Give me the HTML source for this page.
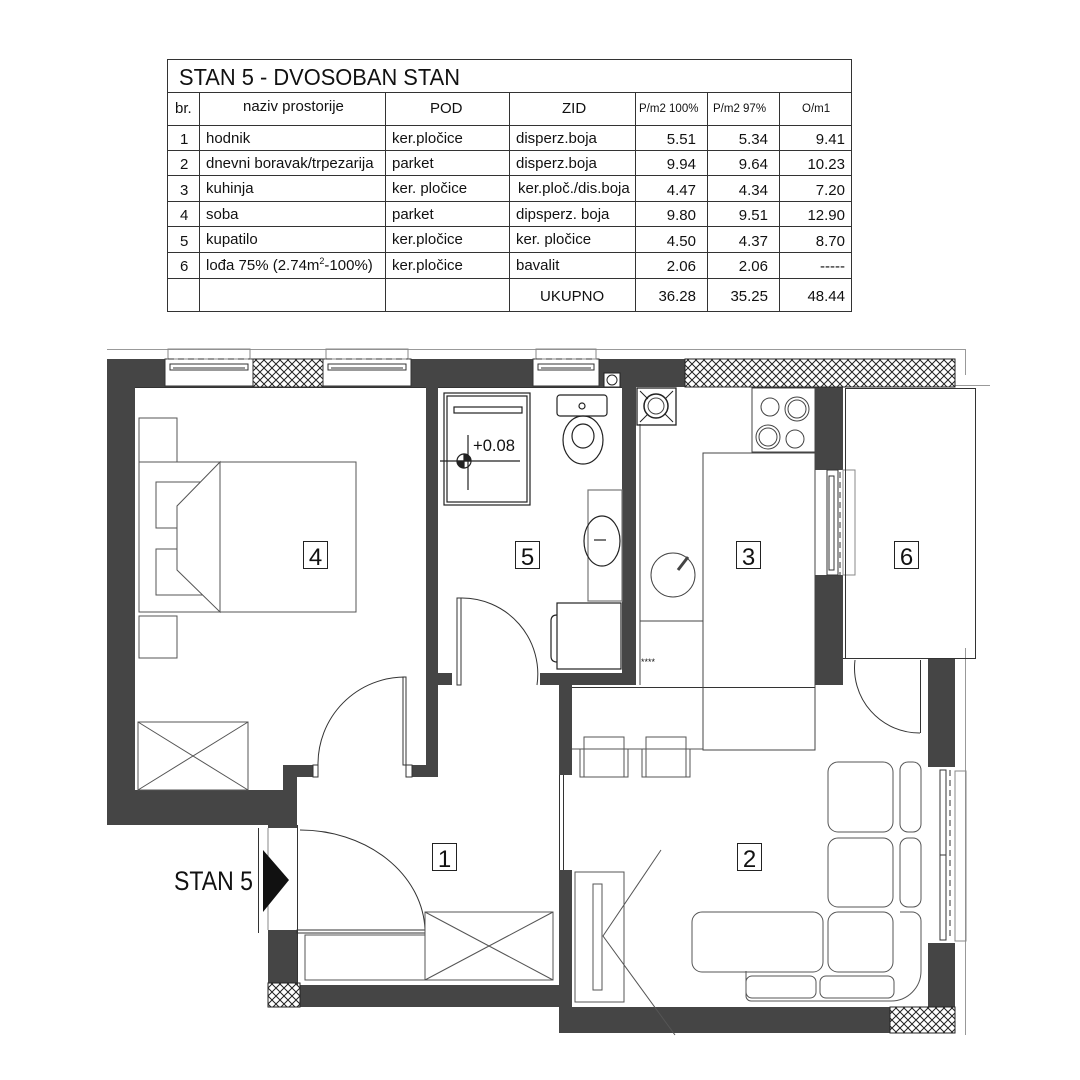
<!DOCTYPE html>
<html><head><meta charset="utf-8"><style>
html,body{margin:0;padding:0;background:#fff;width:1080px;height:1080px;overflow:hidden}
svg{display:block}
text{font-family:"Liberation Sans",sans-serif;fill:#111}
</style></head><body>
<svg width="1080" height="1080" viewBox="0 0 1080 1080" xmlns="http://www.w3.org/2000/svg">
<defs>
<pattern id="h" width="8" height="8" patternUnits="userSpaceOnUse">
<rect width="8" height="8" fill="#fff"/>
<path d="M0 0L8 8M8 0L0 8" stroke="#222" stroke-width="1"/>
</pattern>
</defs>
<!-- TABLE -->
<g stroke="#333" stroke-width="1" fill="none">
<rect x="167.5" y="59.5" width="684" height="252"/>
<line x1="167" y1="92.5" x2="851" y2="92.5"/>
<line x1="167" y1="125.5" x2="851" y2="125.5"/>
<line x1="167" y1="150.5" x2="851" y2="150.5"/>
<line x1="167" y1="175.5" x2="851" y2="175.5"/>
<line x1="167" y1="201.5" x2="851" y2="201.5"/>
<line x1="167" y1="226.5" x2="851" y2="226.5"/>
<line x1="167" y1="252.5" x2="851" y2="252.5"/>
<line x1="167" y1="278.5" x2="851" y2="278.5"/>
<line x1="199.5" y1="92" x2="199.5" y2="311"/>
<line x1="385.5" y1="92" x2="385.5" y2="311"/>
<line x1="509.5" y1="92" x2="509.5" y2="311"/>
<line x1="635.5" y1="92" x2="635.5" y2="311"/>
<line x1="707.5" y1="92" x2="707.5" y2="311"/>
<line x1="779.5" y1="92" x2="779.5" y2="311"/>
</g>
<text x="179" y="85" font-size="23" textLength="281" lengthAdjust="spacingAndGlyphs">STAN  5 - DVOSOBAN STAN</text>
<g font-size="15">
<text x="175" y="113">br.</text>
<text x="243" y="111">naziv prostorije</text>
<text x="430" y="113">POD</text>
<text x="562" y="113">ZID</text>
<text x="639" y="112" font-size="11.5">P/m2 100%</text>
<text x="713" y="112" font-size="11.5">P/m2 97%</text>
<text x="802" y="112" font-size="11.5">O/m1</text>
<g>
<text x="180" y="144">1</text><text x="206" y="143">hodnik</text><text x="392" y="143">ker.pločice</text><text x="516" y="143">disperz.boja</text>
<text x="180" y="169">2</text><text x="206" y="168">dnevni boravak/trpezarija</text><text x="392" y="168">parket</text><text x="516" y="168">disperz.boja</text>
<text x="180" y="195">3</text><text x="206" y="193">kuhinja</text><text x="392" y="193">ker. pločice</text><text x="518" y="193">ker.ploč./dis.boja</text>
<text x="180" y="220">4</text><text x="206" y="219">soba</text><text x="392" y="219">parket</text><text x="516" y="219">dipsperz. boja</text>
<text x="180" y="246">5</text><text x="206" y="244">kupatilo</text><text x="392" y="244">ker.pločice</text><text x="516" y="244">ker. pločice</text>
<text x="180" y="271">6</text><text x="206" y="270">lođa 75%  (2.74m<tspan font-size="9" dy="-6">2</tspan><tspan dy="6">-100%)</tspan></text><text x="392" y="270">ker.pločice</text><text x="516" y="270">bavalit</text>
<text x="540" y="301">UKUPNO</text>
</g>
<g text-anchor="end">
<text x="696" y="144">5.51</text><text x="768" y="144">5.34</text><text x="845" y="144">9.41</text>
<text x="696" y="169">9.94</text><text x="768" y="169">9.64</text><text x="845" y="169">10.23</text>
<text x="696" y="195">4.47</text><text x="768" y="195">4.34</text><text x="845" y="195">7.20</text>
<text x="696" y="220">9.80</text><text x="768" y="220">9.51</text><text x="845" y="220">12.90</text>
<text x="696" y="246">4.50</text><text x="768" y="246">4.37</text><text x="845" y="246">8.70</text>
<text x="696" y="271">2.06</text><text x="768" y="271">2.06</text><text x="845" y="271">-----</text>
<text x="696" y="301">36.28</text><text x="768" y="301">35.25</text><text x="845" y="301">48.44</text>
</g>
</g>

<!-- outer thin lines -->
<g stroke="#999" stroke-width="1" fill="none">
<line x1="107" y1="349.5" x2="965" y2="349.5"/>
<line x1="965.5" y1="349" x2="965.5" y2="375"/>
<line x1="955" y1="385.5" x2="990" y2="385.5"/>
<line x1="965.5" y1="648" x2="965.5" y2="1035"/>
</g>

<!-- WALLS -->
<g fill="#454545">
<rect x="107" y="359" width="578" height="28"/>
<rect x="107" y="359" width="28" height="466"/>
<rect x="107" y="790" width="190" height="35"/>
<rect x="283" y="765" width="14" height="30"/>
<rect x="283" y="765" width="30" height="12"/>
<rect x="426" y="385" width="12" height="392"/>
<rect x="412" y="765" width="26" height="12"/>
<rect x="438" y="673" width="14" height="12"/>
<rect x="540" y="673" width="96" height="12"/>
<rect x="622" y="385" width="14" height="300"/>
<rect x="559" y="685" width="13" height="90"/>
<rect x="559" y="870" width="13" height="137"/>
<rect x="815" y="385" width="28" height="85"/>
<rect x="815" y="575" width="28" height="110"/>
<rect x="928" y="658" width="27" height="109"/>
<rect x="928" y="943" width="27" height="64"/>
<rect x="268" y="930" width="29" height="55"/>
<rect x="268" y="822" width="29" height="6"/>
<rect x="297" y="985" width="262" height="22"/>
<rect x="559" y="1007" width="331" height="26"/>
</g>
<!-- hatches -->
<rect x="253" y="359" width="70" height="28" fill="url(#h)" stroke="#222"/>
<rect x="685" y="359" width="270" height="28" fill="url(#h)" stroke="#222"/>
<rect x="268" y="983" width="32" height="24" fill="url(#h)" stroke="#222"/>
<rect x="890" y="1007" width="65" height="26" fill="url(#h)" stroke="#222"/>

<!-- windows top -->
<g fill="#fff" stroke="#333" stroke-width="1">
<rect x="165" y="359" width="88" height="27"/>
<rect x="323" y="359" width="88" height="27"/>
<rect x="533" y="359" width="66" height="27"/>
</g>
<g stroke="#333" stroke-width="1" fill="none">
<rect x="168" y="349" width="82" height="10" stroke="#888"/>
<rect x="326" y="349" width="82" height="10" stroke="#888"/>
<rect x="536" y="349" width="60" height="10" stroke="#888"/>
<line x1="168" y1="359" x2="250" y2="359" stroke-dasharray="6,4"/>
<line x1="326" y1="359" x2="408" y2="359" stroke-dasharray="6,4"/>
<line x1="536" y1="359" x2="596" y2="359" stroke-dasharray="6,4"/>
<rect x="170" y="364" width="78" height="6"/><line x1="173" y1="368" x2="245" y2="368"/>
<rect x="328" y="364" width="78" height="6"/><line x1="331" y1="368" x2="403" y2="368"/>
<rect x="538" y="364" width="56" height="6"/><line x1="541" y1="368" x2="591" y2="368"/>
<rect x="827" y="470" width="11" height="105" fill="#fff"/>
<rect x="829" y="476" width="5" height="94"/>
<line x1="840" y1="472" x2="840" y2="575" stroke-dasharray="6,4"/>
<rect x="843" y="470" width="12" height="105" stroke="#888"/>
<rect x="940" y="770" width="6" height="170"/>
<line x1="950" y1="770" x2="950" y2="940" stroke-dasharray="6,4"/>
<rect x="955" y="771" width="11" height="170" stroke="#888"/>
<line x1="940" y1="855" x2="946" y2="855"/>
</g>
<rect x="604" y="373" width="16" height="14" fill="#fff" stroke="#222"/>
<circle cx="612" cy="380" r="5" fill="none" stroke="#222"/>

<!-- thin interior outlines -->
<g stroke="#333" stroke-width="1" fill="none">
<line x1="135" y1="387.5" x2="426" y2="387.5"/>
<line x1="438" y1="387.5" x2="622" y2="387.5"/>
<line x1="559.5" y1="775" x2="559.5" y2="870"/>
<line x1="563.5" y1="775" x2="563.5" y2="870"/>
<line x1="572" y1="687.5" x2="815" y2="687.5"/>
<line x1="297.5" y1="825" x2="297.5" y2="985"/>
<line x1="268" y1="828" x2="268" y2="930" stroke="#888"/>
<line x1="258.5" y1="828" x2="258.5" y2="933"/>
<rect x="845.5" y="388.5" width="130" height="270"/>
<line x1="843" y1="658.5" x2="928" y2="658.5"/>
<line x1="920.5" y1="660" x2="920.5" y2="733"/>
<path d="M855 660 A65 65 0 0 0 920 733"/>
<rect x="403" y="677" width="3" height="88"/>
<path d="M405 677 A87 87 0 0 0 318 765"/>
<rect x="313" y="765" width="5" height="12"/>
<rect x="406" y="765" width="6" height="12"/>
<rect x="457" y="598" width="4" height="87"/>
<path d="M461 598 A76 76 0 0 1 537 685"/>
<rect x="297" y="930" width="128" height="3"/>
<path d="M300 830 A125 103 0 0 1 425 930"/>
</g>

<!-- ROOM 4 furniture -->
<g stroke="#555" stroke-width="1" fill="none">
<rect x="139" y="418" width="38" height="44"/>
<rect x="139" y="616" width="38" height="42"/>
<rect x="139" y="462" width="217" height="150"/>
<rect x="156" y="482" width="64" height="46"/>
<rect x="156" y="549" width="64" height="46"/>
<path d="M220 462 L220 612 L177 570 L177 506 Z" fill="#fff"/>
<rect x="138" y="722" width="110" height="68"/>
<path d="M138 722L248 790M248 722L138 790"/>
</g>

<!-- BATH -->
<g stroke="#222" stroke-width="1.2" fill="none">
<rect x="444" y="393" width="86" height="112"/>
<rect x="447" y="396" width="80" height="106"/>
<rect x="454" y="407" width="68" height="6"/>
<line x1="468" y1="435" x2="468" y2="490"/>
<line x1="440" y1="461" x2="520" y2="461"/>
<circle cx="464" cy="461" r="7"/>
<path d="M464 461 L464 454 A7 7 0 0 1 471 461Z M464 461 L457 461 A7 7 0 0 0 464 468Z" fill="#222"/>
<rect x="557" y="395" width="50" height="21" rx="3"/>
<circle cx="582" cy="406" r="3"/>
<ellipse cx="583" cy="440" rx="20" ry="24"/>
<ellipse cx="583" cy="436" rx="11" ry="12"/>
<rect x="588" y="490" width="34" height="111" stroke="#777"/>
<ellipse cx="602" cy="541" rx="18" ry="25"/>
<path d="M594 540h12"/>
<rect x="557" y="603" width="64" height="66"/>
<path d="M557 615 q-6 0 -6 6 v35 q0 6 6 6"/>
</g>
<text x="473" y="451" font-size="17" fill="#111" textLength="42" lengthAdjust="spacingAndGlyphs">+0.08</text>

<!-- KITCHEN -->
<g stroke="#444" stroke-width="1" fill="none">
<line x1="640" y1="424" x2="640" y2="685"/>
<rect x="637" y="388" width="39" height="37" stroke="#222" stroke-width="1.3"/>
<circle cx="656" cy="406" r="12" stroke="#222" stroke-width="1.5"/>
<circle cx="656" cy="406" r="8"/>
<path d="M640 391l8 8M673 391l-8 8M640 422l8-8M673 422l-8-8" stroke="#222"/>
<rect x="752" y="388" width="63" height="64"/>
<circle cx="770" cy="407" r="9"/>
<circle cx="797" cy="409" r="12"/><circle cx="797" cy="409" r="9"/>
<circle cx="768" cy="437" r="12"/><circle cx="768" cy="437" r="9"/>
<circle cx="795" cy="439" r="9"/>
<rect x="703" y="453" width="112" height="297"/>
<line x1="640" y1="621" x2="703" y2="621"/>
<circle cx="673" cy="575" r="22"/>
<line x1="678" y1="570" x2="688" y2="557" stroke-width="3"/>
</g>
<text x="641" y="665" font-size="9" fill="#222">****</text>

<!-- LIVING -->
<g stroke="#555" stroke-width="1" fill="none">
<line x1="572" y1="749" x2="703" y2="749"/>
<rect x="584" y="737" width="40" height="40"/><rect x="580" y="749" width="48" height="28"/>
<rect x="646" y="737" width="40" height="40"/><rect x="642" y="749" width="48" height="28"/>
<rect x="828" y="762" width="65" height="70" rx="10"/>
<rect x="900" y="762" width="21" height="70" rx="8"/>
<rect x="828" y="838" width="65" height="69" rx="10"/>
<rect x="900" y="838" width="21" height="69" rx="8"/>
<rect x="692" y="912" width="131" height="60" rx="10"/>
<rect x="828" y="912" width="65" height="60" rx="10"/>
<path d="M900 912 h12 a9 9 0 0 1 9 9 v50 a30 30 0 0 1 -30 30 h-140 a5 5 0 0 1 -5 -5 v-25"/>
<rect x="746" y="976" width="70" height="22" rx="6"/>
<rect x="820" y="976" width="74" height="22" rx="6"/>
<rect x="575" y="872" width="49" height="130"/>
<rect x="593" y="884" width="9" height="106"/>
<path d="M661 850 L603 936 L675 1035"/>
<rect x="305" y="935" width="120" height="45"/>
<rect x="425" y="912" width="128" height="68"/>
<path d="M425 912L553 980M553 912L425 980"/>
</g>

<!-- Room labels -->
<g font-size="24" text-anchor="middle">
<rect x="303.5" y="541.5" width="24" height="27" fill="none" stroke="#222"/><text x="315.5" y="565">4</text>
<rect x="515.5" y="541.5" width="24" height="27" fill="none" stroke="#222"/><text x="527.5" y="565">5</text>
<rect x="736.5" y="541.5" width="24" height="27" fill="none" stroke="#222"/><text x="748.5" y="565">3</text>
<rect x="894.5" y="541.5" width="24" height="27" fill="none" stroke="#222"/><text x="906.5" y="565">6</text>
<rect x="432.5" y="843.5" width="24" height="27" fill="none" stroke="#222"/><text x="444.5" y="867">1</text>
<rect x="737.5" y="843.5" width="24" height="27" fill="none" stroke="#222"/><text x="749.5" y="867">2</text>
</g>
<text x="174" y="890" font-size="27" textLength="79" lengthAdjust="spacingAndGlyphs">STAN 5</text>
<polygon points="263,850 289,880 263,912" fill="#111"/>
</svg>
</body></html>
